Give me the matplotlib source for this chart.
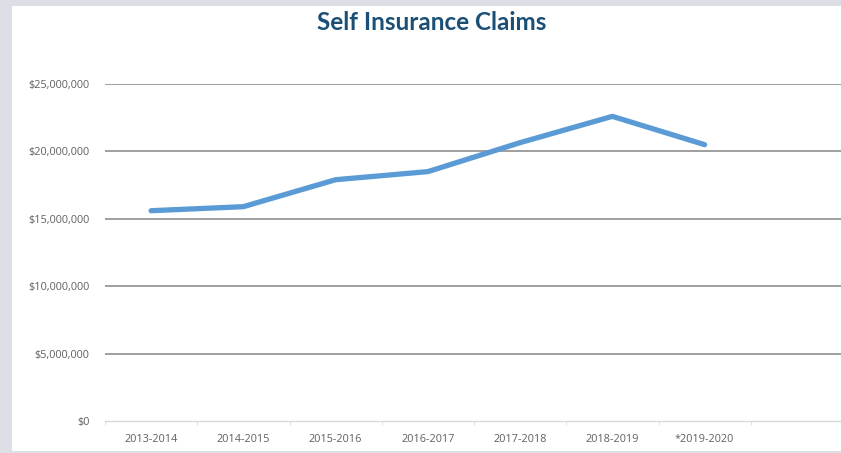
import numpy as np
import matplotlib.pyplot as plt
from matplotlib.patches import Rectangle
from matplotlib.ticker import FuncFormatter, FixedLocator

# fiscal years and total claims paid
years = ["2013-2014", "2014-2015", "2015-2016", "2016-2017",
         "2017-2018", "2018-2019", "*2019-2020"]
claims = [15.6e6, 15.9e6, 17.9e6, 18.5e6, 20.65e6, 22.6e6, 20.5e6]
y_ticks = [0, 5e6, 10e6, 15e6, 20e6, 25e6]

plt.rcParams['font.family'] = ['Lato', 'DejaVu Sans']

W, H = 841, 453
fig = plt.figure(figsize=(W / 100, H / 100), dpi=100)
fig.patch.set_facecolor("#dcdfe5")

# white chart panel on the grey page
fig.patches.append(Rectangle((12 / W, 2 / H), 1, 1 - 8 / H, transform=fig.transFigure,
                             facecolor="white", edgecolor="none", zorder=-5))

ax = fig.add_axes([105 / W, 32 / H, 738 / W, 337 / H])
ax.set_facecolor("none")
ax.set_zorder(2)

x = np.arange(len(years))
ax.plot(x, claims, color="#5B9BD5", linewidth=3.8, solid_capstyle="round",
        solid_joinstyle="round", zorder=3)

ax.set_xlim(-0.5, 7.5)
ax.set_ylim(0, 25e6)

ax.set_yticks(y_ticks)
ax.yaxis.set_major_formatter(FuncFormatter(lambda v, p: f"${v:,.0f}"))
for v in y_ticks[1:]:
    ax.axhline(v, color="#858585", linewidth=1.1, zorder=1)

ax.set_xticks(x)
ax.set_xticklabels(years)
ax.xaxis.set_minor_locator(FixedLocator(np.arange(-0.5, 8.0, 1.0)))
ax.tick_params(axis="x", which="major", length=0, pad=9, labelsize=7.8, labelcolor="#606060")
ax.tick_params(axis="x", which="minor", length=3, color="#d9d9d9", direction="out")
ax.tick_params(axis="y", length=0, pad=11, labelsize=7.8, labelcolor="#606060")
for lbl in ax.get_xticklabels() + ax.get_yticklabels():
    lbl.set_family(["Open Sans", "DejaVu Sans"])

for s in ["top", "right", "left"]:
    ax.spines[s].set_visible(False)
ax.spines["bottom"].set_color("#d9d9d9")
ax.spines["bottom"].set_linewidth(1)

fig.text(432 / W, 1 - 22 / H, "Self Insurance Claims", ha="center", va="center",
         fontsize=17.5, fontweight="bold", color="#1B4F75", zorder=5)

fig.savefig("out.png", dpi=100)
